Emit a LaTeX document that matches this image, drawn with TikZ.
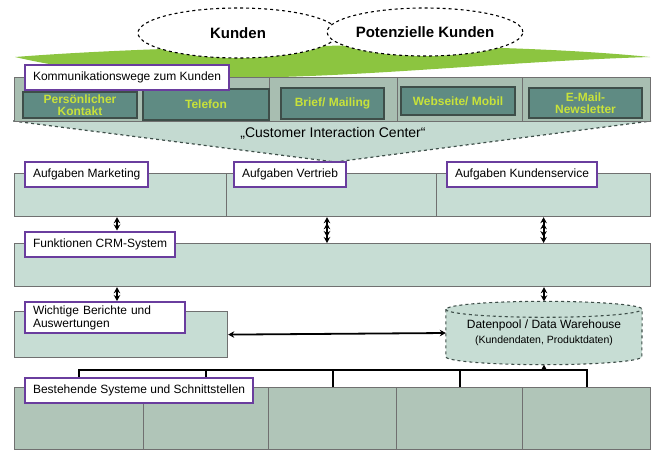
\documentclass[tikz,border=0pt]{standalone}
\usepackage{fontspec}
\setmainfont{Liberation Sans}
\usetikzlibrary{positioning,arrows.meta,calc,shapes.geometric,backgrounds}

\definecolor{rowfill}{HTML}{C7DDD4}
\definecolor{sysfill}{HTML}{B0C5B8}
\definecolor{funnel}{HTML}{C4DAD1}
\definecolor{chanbg}{HTML}{A8BEB1}
\definecolor{chanfill}{HTML}{5F8B83}
\definecolor{chantext}{HTML}{C8E23A}
\definecolor{chanline}{HTML}{3E4E49}
\definecolor{lblline}{HTML}{6A3D9E}
\definecolor{swoosh}{HTML}{8CC540}
\definecolor{rowline}{HTML}{707070}

\begin{document}
\begin{tikzpicture}[x=1pt, y=-1pt,
  >={Stealth[length=6pt, width=6.5pt]},
  cell/.style={draw=rowline, line width=1.2pt, fill=rowfill, anchor=north west, inner sep=0pt},
  sys/.style={cell, fill=sysfill},
  comm/.style={cell, fill=chanbg},
  chan/.style={draw=chanline, line width=1.2pt, fill=chanfill, text=chantext, align=center,
               font=\fontsize{12}{12.5}\selectfont\bfseries, inner sep=0pt},
  lbl/.style={draw=lblline, line width=2pt, fill=white, anchor=west, align=left,
              font=\fontsize{12}{13.5}\selectfont, inner xsep=8pt, minimum height=25pt},
  kunde/.style={ellipse, draw, dashed, line width=1.1pt, fill=white,
                font=\fontsize{15}{17}\selectfont\bfseries, inner sep=0pt},
  dbase/.style={minimum width=196pt, minimum height=63pt, align=center, inner sep=0pt,
                font=\fontsize{12}{14}\selectfont},
  conn/.style={line width=1.8pt}]
  \useasboundingbox (0,0) rectangle (657,451);
  % customers on top of the green swoosh
  \fill[swoosh] (15,57) .. controls (180,44) and (480,40) .. (650,57)
                .. controls (420,64) and (200,100) .. (15,57);
  \node[kunde, minimum width=200pt, minimum height=50pt] (kd) at (238,33) {Kunden};
  \node[kunde, minimum width=192pt, minimum height=48pt] (pk) at (425,32) {Potenzielle Kunden};
  % funnel -- customer interaction center
  \filldraw[draw=chanline, dashed, line width=1.2pt, fill=funnel] (13,121) -- (651,121) -- (335,162) -- cycle;
  \node[font=\fontsize{14}{16}\selectfont] (cic) at (333,133) {„Customer Interaction Center“};
  % channels
  \node[comm, minimum width=255pt, minimum height=44pt] (k1) at (14,77) {};
  \node[comm, minimum width=128pt, minimum height=44pt] (k2) at (269,77) {};
  \node[comm, minimum width=125pt, minimum height=44pt] (k3) at (397,77) {};
  \node[comm, minimum width=128pt, minimum height=44pt] (k4) at (522,77) {};
  \node[chan, minimum width=114pt, minimum height=26pt] (pers) at (80,105) {Persönlicher\\Kontakt};
  \node[chan, minimum width=126pt, minimum height=31pt] (tel) at (206,104.5) {Telefon};
  \node[chan, minimum width=103pt, minimum height=31pt] (brief) at (332.5,103.5) {Brief/ Mailing};
  \node[chan, minimum width=114pt, minimum height=28pt] (web) at (458,101) {Webseite/ Mobil};
  \node[chan, minimum width=113pt, minimum height=30pt] (mail) at (585.5,103) {E-Mail-\\Newsletter};
  \node[lbl] (kommlbl) at ($(k1.north west)+(10,0)$) {Kommunikationswege zum Kunden};
  % tasks and CRM
  \node[cell, minimum width=212pt, minimum height=43pt] (mkt) at (14,173) {};
  \node[cell, minimum width=210pt, minimum height=43pt] (vtr) at (226,173) {};
  \node[cell, minimum width=214pt, minimum height=43pt] (ksv) at (436,173) {};
  \node[cell, minimum width=636pt, minimum height=43pt] (crm) at (14,243) {};
  \node[lbl] (mktlbl) at ($(mkt.north west)+(10,1)$) {Aufgaben Marketing};
  \node[lbl] (vtrlbl) at ($(vtr.north west)+(7,1)$) {Aufgaben Vertrieb};
  \node[lbl] (ksvlbl) at ($(ksv.north west)+(10,1)$) {Aufgaben Kundenservice};
  \node[lbl] (crmlbl) at ($(crm.north west)+(10,1)$) {Funktionen CRM-System};
  % reports and data warehouse
  \node[cell, minimum width=213pt, minimum height=46pt] (ber) at (14,311) {};
  \node[lbl, anchor=north west, text width=144pt] (berlbl) at ($(ber.north west)+(10,-10)$)
    {Wichtige Berichte und\\Auswertungen};
  \node[dbase] (dwh) at (544,333) {Datenpool / Data Warehouse\\[1pt]
    {\fontsize{10.5}{12}\selectfont (Kundendaten, Produktdaten)}};
  \begin{scope}[on background layer]
    \draw[dashed, line width=1.1pt, draw=chanline, fill=rowfill]
      ($(dwh.north west)+(0,8)$) -- ($(dwh.south west)+(0,-8)$)
      arc[start angle=180, end angle=0, x radius=98, y radius=8]
      -- ($(dwh.north east)+(0,8)$)
      arc[start angle=0, end angle=-180, x radius=98, y radius=8] -- cycle;
    \draw[dashed, line width=1.1pt, draw=chanline]
      ($(dwh.north west)+(0,8)$) arc[start angle=180, end angle=0, x radius=98, y radius=8];
  \end{scope}
  % existing systems
  \node[sys, minimum width=129pt, minimum height=62pt] (s1) at (14,387) {};
  \node[sys, minimum width=125pt, minimum height=62pt] (s2) at (143,387) {};
  \node[sys, minimum width=128pt, minimum height=62pt] (s3) at (268,387) {};
  \node[sys, minimum width=126pt, minimum height=62pt] (s4) at (396,387) {};
  \node[sys, minimum width=128pt, minimum height=62pt] (s5) at (522,387) {};
  \coordinate (bus) at (544,370);
  % arrows
  \draw[conn, <->] (mkt.south -| 117,0) -- (crmlbl.north -| 117,0);
  \draw[conn, <<->>] (vtr.south -| 327,0) -- (crm.north -| 327,0);
  \draw[conn, <<->>] (ksv.south) -- (ksv.south |- crm.north);
  \draw[conn, <->] (crm.south -| 117,0) -- (berlbl.north -| 117,0);
  \draw[conn, <->] (crm.south -| dwh.north) -- (dwh.north);
  \draw[conn, <->] (ber.east) -- (dwh.west);
  \draw[conn, ->] (bus) -- (dwh.south);
  \draw[conn] (s1.north) -- (s1.north |- bus) -- (s5.north |- bus) -- (s5.north);
  \foreach \s in {s2,s3,s4}
    \draw[conn] (\s.north) -- (\s.north |- bus);
  % label over the systems row
  \node[lbl] (syslbl) at ($(s1.north west)+(10,3)$) {Bestehende Systeme und Schnittstellen};
\end{tikzpicture}
\end{document}
